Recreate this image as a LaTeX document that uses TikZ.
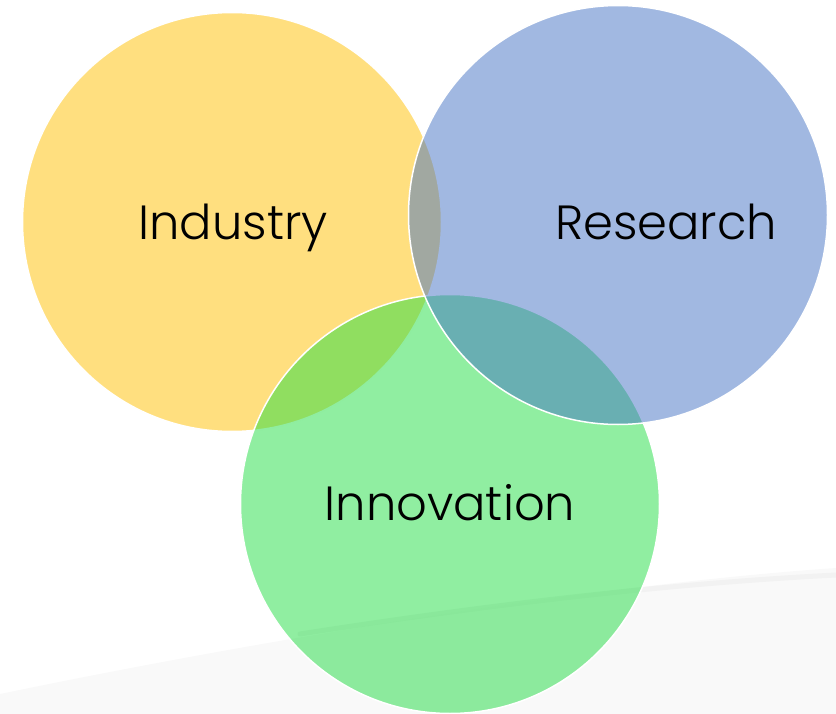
\documentclass[tikz,border=0pt]{standalone}
\usepackage{fontspec}
\setmainfont{Poppins}[UprightFont={* Light}]
\usetikzlibrary{positioning}

\definecolor{jaune}{HTML}{FFC000}
\definecolor{bleu}{HTML}{4472C4}
\definecolor{vert}{HTML}{21DD43}

\tikzset{
  cercle/.style={circle, minimum size=419pt, inner sep=0pt, fill opacity=0.5, draw=white, line width=1.5pt},
  etiquette/.style={anchor=base, font=\fontsize{48}{56}\selectfont, text=black},
}

\begin{document}
\begin{tikzpicture}[x=1pt,y=-1pt]
                  \useasboundingbox (0,0) rectangle (836,714);

                  % Fond gris en bas
                  \fill[gray!5] (0,714) -- (0,694) .. controls (260,640) and (600,584) .. (836,568) -- (836,714) -- cycle;
                  \draw[gray!11, line width=5pt, line cap=round, opacity=0.8] (300,634) .. controls (480,606) and (660,584) .. (836,575);

                  % Cercles
                  \node[cercle, fill=jaune] (industrie) at (232,222) {};
                  \node[cercle, fill=vert] (innovation) at (450,504) {};
                  \node[cercle, fill=bleu] (recherche) at (618,215) {};

                  % Textes
                  \node[etiquette] (tindustrie) at (233,240) {Industry};
                  \node[etiquette] (trecherche) at (666,240) {Research};
                  \node[etiquette] (tinnovation) at (450,520) {Innovation};
              \end{tikzpicture}
\end{document}
